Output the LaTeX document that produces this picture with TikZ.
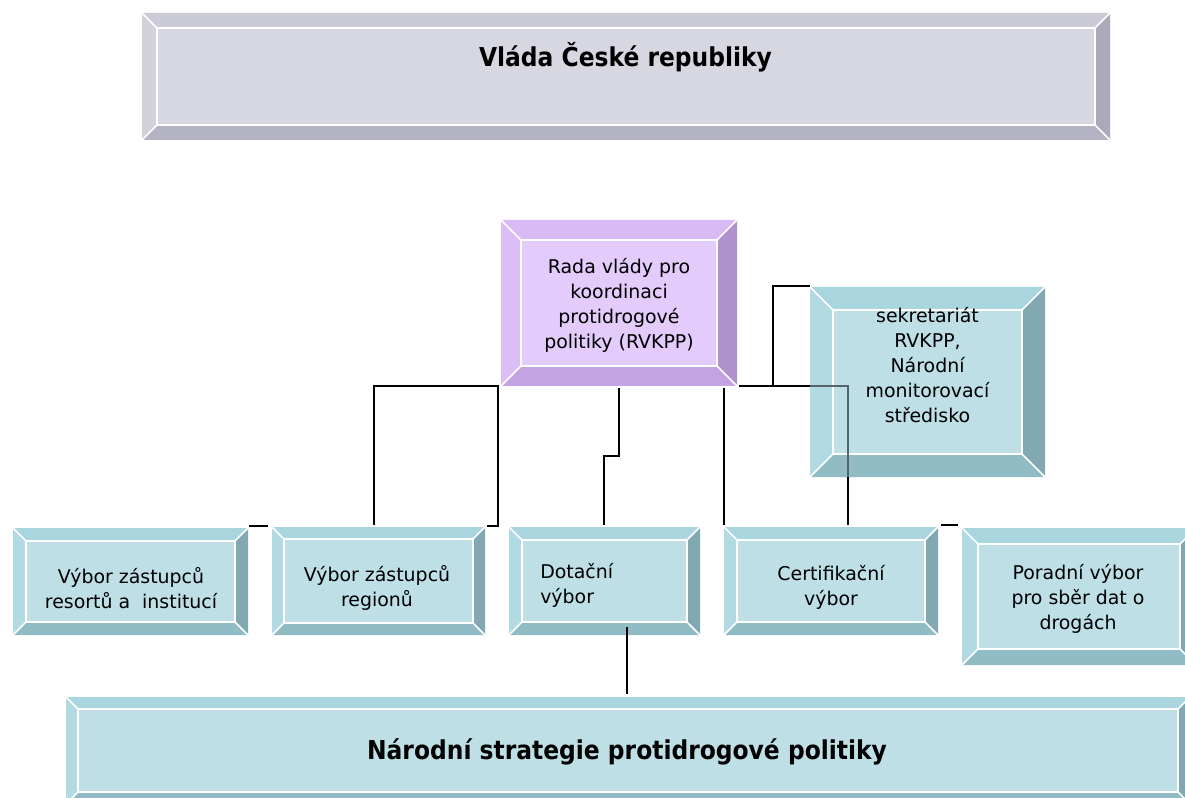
\documentclass[tikz,border=0pt]{standalone}
\usepackage{fontspec}
\setmainfont{DejaVu Sans}
\newfontfamily\titlefont{DejaVu Sans}[FakeStretch=0.9]
\usepackage{xcolor}

% palettes: face, top, left, right, bottom bevel
\definecolor{grface}{HTML}{D7D7E1}
\definecolor{grtop}{HTML}{CBCBD8}
\definecolor{grleft}{HTML}{D2D2DD}
\definecolor{grright}{HTML}{A9A9B9}
\definecolor{grbot}{HTML}{B3B3C3}
\definecolor{puface}{HTML}{E3CBFB}
\definecolor{putop}{HTML}{D9BAF5}
\definecolor{puleft}{HTML}{DBBEF5}
\definecolor{puright}{HTML}{B092CC}
\definecolor{pubot}{HTML}{C3A3E3}
\definecolor{tlface}{HTML}{BDDFE5}
\definecolor{tltop}{HTML}{A9D5DF}
\definecolor{tlleft}{HTML}{B1DAE2}
\definecolor{tlright}{HTML}{82A9B1}
\definecolor{tlbot}{HTML}{92BCC5}

\tikzset{
  bevelline/.style={white, line width=1.2pt},
  conn/.style={black, line width=0.8pt},
  conninside/.style={black!55!tlface, line width=0.8pt},
  boxtext/.style={font=\fontsize{14.2}{18.75}\selectfont, align=center, inner sep=0pt},
  titletext/.style={font=\titlefont\fontsize{19.5}{23}\selectfont\bfseries, inner sep=0pt}
}

% \bevelbox{x1}{y1}{x2}{y2}{bevel}{palette}
\newcommand{\bevelbox}[6]{%
  \fill[#6top] (#1,#2) -- (#3,#2) -- (#3-#5,#2+#5) -- (#1+#5,#2+#5) -- cycle;
  \fill[#6bot] (#1,#4) -- (#3,#4) -- (#3-#5,#4-#5) -- (#1+#5,#4-#5) -- cycle;
  \fill[#6left] (#1,#2) -- (#1+#5,#2+#5) -- (#1+#5,#4-#5) -- (#1,#4) -- cycle;
  \fill[#6right] (#3,#2) -- (#3-#5,#2+#5) -- (#3-#5,#4-#5) -- (#3,#4) -- cycle;
  \fill[#6face] (#1+#5,#2+#5) rectangle (#3-#5,#4-#5);
  \draw[bevelline] (#1+#5,#2+#5) rectangle (#3-#5,#4-#5)
    (#1,#2) -- (#1+#5,#2+#5) (#3,#2) -- (#3-#5,#2+#5)
    (#1,#4) -- (#1+#5,#4-#5) (#3,#4) -- (#3-#5,#4-#5);
}

\begin{document}
\begin{tikzpicture}[x=0.75pt, y=-0.75pt]
    \useasboundingbox (0,0) rectangle (1185,798);

    % boxes
    \bevelbox{142}{13}{1110}{140}{15}{gr}
    \bevelbox{501}{220}{737}{386}{20}{pu}
    \bevelbox{810}{287}{1045}{477}{23}{tl}
    \bevelbox{13}{528}{248}{635}{13}{tl}
    \bevelbox{272}{527}{485}{635}{12}{tl}
    \bevelbox{509}{527}{700}{635}{13}{tl}
    \bevelbox{724}{527}{938}{635}{13}{tl}
    \bevelbox{962}{528}{1196}{665}{16}{tl}
    \bevelbox{66}{697}{1190}{804}{12}{tl}

    % texts
    \node[titletext, anchor=base] (vlada) at (625.5,67) {Vláda České republiky};
    \node[boxtext] (rada) at (619,305.5) {Rada vlády pro\\koordinaci\\protidrogové\\politiky (RVKPP)};
    \node[boxtext] (sekr) at (927.5,365) {sekretariát\\RVKPP,\\Národní\\monitorovací\\středisko};
    \node[boxtext] (resorty) at (131,588) {Výbor zástupců\\resortů a\ \ institucí};
    \node[boxtext] (regiony) at (377,587.5) {Výbor zástupců\\regionů};
    \node[boxtext, align=left, anchor=west] (dotace) at (540,585) {Dotační\\výbor};
    \node[boxtext] (certif) at (831,587.5) {Certifikační\\výbor};
    \node[boxtext] (poradni) at (1078,599) {Poradní výbor\\pro sběr dat o\\drogách};
    \node[titletext, anchor=base] (strategie) at (627,759) {Národní strategie protidrogové politiky};

    % connector points
    \coordinate (la) at (374,386);
    \coordinate (lb) at (498,386);
    \coordinate (la-end) at (374,525);
    \coordinate (lb-end) at (498,526);
    \coordinate (lb-tip) at (487,526);
    \coordinate (da) at (249,526);
    \coordinate (db) at (268,526);
    \coordinate (ma) at (619,388);
    \coordinate (mb) at (619,456);
    \coordinate (mc) at (604,456);
    \coordinate (md) at (604,525);
    \coordinate (ca) at (724,388);
    \coordinate (cb) at (724,525);
    \coordinate (ra) at (739,386);
    \coordinate (rb) at (773,386);
    \coordinate (rc) at (810,386);
    \coordinate (rd) at (848,386);
    \coordinate (re) at (848,477);
    \coordinate (rf) at (848,525);
    \coordinate (sa) at (773,286);
    \coordinate (sb) at (810,286);
    \coordinate (ea) at (941,525);
    \coordinate (eb) at (958,525);
    \coordinate (ba) at (627,627);
    \coordinate (bb) at (627,694);

    % connectors
    \draw[conn] (la-end) -- (la) -- (lb) -- (lb-end) -- (lb-tip);
    \draw[conn] (da) -- (db);
    \draw[conn] (ma) -- (mb) -- (mc) -- (md);
    \draw[conn] (ca) -- (cb);
    \draw[conn] (ra) -- (rc);
    \draw[conn] (rb) -- (sa) -- (sb);
    \draw[conninside] (rc) -- (rd) -- (re);
    \draw[conn] (re) -- (rf);
    \draw[conn] (ea) -- (eb);
    \draw[conn] (ba) -- (bb);
\end{tikzpicture}
\end{document}
